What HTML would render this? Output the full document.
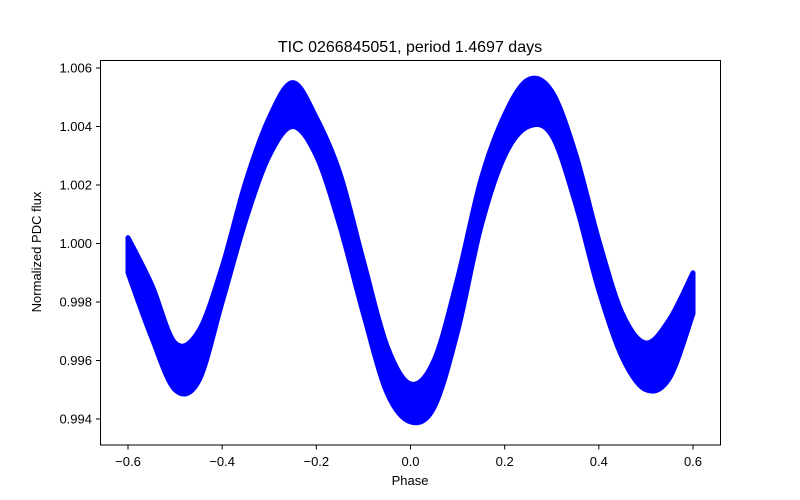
<!DOCTYPE html>
<html><head><meta charset="utf-8"><style>
body{margin:0;background:#fff;}
svg{display:block;font-family:"Liberation Sans","DejaVu Sans",sans-serif;}
</style></head><body>
<svg id="chart" width="800" height="500" viewBox="0 0 800 500">
<rect width="800" height="500" fill="#fff"/>
<g id="band"></g>
<rect x="100.5" y="60.5" width="620" height="384.5" fill="none" stroke="#000" stroke-width="1"/>
<g id="xticks"></g>
<g id="yticks"></g>
<text x="410" y="52" font-size="16" text-anchor="middle">TIC 0266845051, period 1.4697 days</text>
<text x="410" y="485" font-size="13" text-anchor="middle">Phase</text>
<text transform="translate(41,252) rotate(-90)" font-size="13" text-anchor="middle">Normalized PDC flux</text>
</svg>
<script>
const phases=[-0.6,-0.55,-0.5,-0.45,-0.4,-0.35,-0.3,-0.25,-0.2,-0.15,-0.1,-0.05,0,0.05,0.1,0.15,0.2,0.25,0.3,0.35,0.4,0.45,0.5,0.55,0.6];
const upper=[1.0002,0.9986,0.9966,0.9970,0.9992,1.0021,1.0043,1.0055,1.0043,1.0024,0.9994,0.9965,0.9952,0.9960,0.9988,1.0022,1.0044,1.0056,1.0052,1.0031,1.0001,0.9976,0.9966,0.9974,0.9990];
const lower=[0.9990,0.9968,0.9950,0.9953,0.9980,1.0008,1.0030,1.0040,1.0030,1.0006,0.9976,0.9949,0.9939,0.9944,0.9970,1.0006,1.0030,1.0040,1.0037,1.0014,0.9984,0.9961,0.9950,0.9954,0.9976];
const xTicks=[-0.6,-0.4,-0.2,0,0.2,0.4,0.6];
const yTicks=[0.994,0.996,0.998,1.000,1.002,1.004,1.006];
const NS="http://www.w3.org/2000/svg";
function X(v){return 410.5+v*470.83;}
function Y(v){return 68+(1.006-v)/0.002*58.5;}
function smooth(p){
 let d='';
 for(let i=0;i<p.length-1;i++){
  const p0=p[Math.max(i-1,0)],p1=p[i],p2=p[i+1],p3=p[Math.min(i+2,p.length-1)];
  const c1=[p1[0]+(p2[0]-p0[0])/6,p1[1]+(p2[1]-p0[1])/6];
  const c2=[p2[0]-(p3[0]-p1[0])/6,p2[1]-(p3[1]-p1[1])/6];
  d+=' C'+c1[0]+','+c1[1]+' '+c2[0]+','+c2[1]+' '+p2[0]+','+p2[1];
 }
 return d;
}
const up=phases.map((p,i)=>[X(p),Y(upper[i])]);
const lo=phases.map((p,i)=>[X(p),Y(lower[i])]).reverse();
const d='M'+up[0][0]+','+up[0][1]+smooth(up)+' L'+lo[0][0]+','+lo[0][1]+smooth(lo)+' Z';
const band=document.getElementById('band');
const path=document.createElementNS(NS,'path');
path.setAttribute('d',d);
path.setAttribute('fill','#0000ff');path.setAttribute('stroke','#0000ff');
path.setAttribute('stroke-width','5');path.setAttribute('stroke-linejoin','round');


band.appendChild(path);
const xg=document.getElementById('xticks');
xTicks.forEach(v=>{
 const l=document.createElementNS(NS,'line');
 l.setAttribute('x1',X(v));l.setAttribute('x2',X(v));l.setAttribute('y1',445);l.setAttribute('y2',449.5);l.setAttribute('stroke','#000');
 
 
 xg.appendChild(l);
 const t=document.createElementNS(NS,'text');
 t.setAttribute('x',X(v));t.setAttribute('y',466);t.setAttribute('font-size','13');t.setAttribute('text-anchor','middle');
 t.textContent=(v<0?'\u2212':'')+Math.abs(v).toFixed(1);
 
 
 xg.appendChild(t);
});
const yg=document.getElementById('yticks');
yTicks.forEach(v=>{
 const l=document.createElementNS(NS,'line');
 l.setAttribute('x1',96);l.setAttribute('x2',100.5);l.setAttribute('y1',Y(v));l.setAttribute('y2',Y(v));l.setAttribute('stroke','#000');
 
 
 yg.appendChild(l);
 const t=document.createElementNS(NS,'text');
 t.setAttribute('x',92);t.setAttribute('y',Y(v)+4.5);t.setAttribute('font-size','13');t.setAttribute('text-anchor','end');
 t.textContent=v.toFixed(3);
 
 
 yg.appendChild(t);
});
</script>
</body></html>
